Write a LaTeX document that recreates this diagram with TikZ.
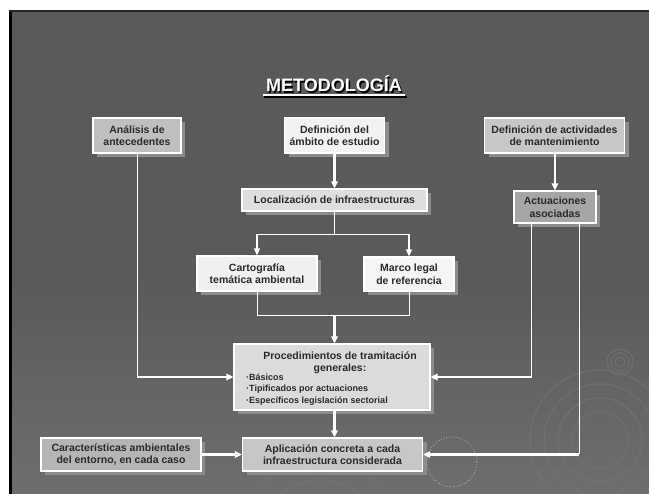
\documentclass[tikz,border=0pt]{standalone}
\usepackage{fontspec}
\setmainfont{Liberation Sans}
\usetikzlibrary{arrows.meta,shadows,calc}
\definecolor{bgtop}{HTML}{5A5A5A}
\definecolor{bgbot}{HTML}{6E6E6E}
\definecolor{shgray}{HTML}{8C8C8C}
\definecolor{txt}{HTML}{2A2A2A}
\definecolor{ring}{HTML}{7A7A7A}
\tikzset{
  box/.style={draw=white, line width=1.2pt, text=txt, align=center, inner sep=1pt,
    font=\bfseries\fontsize{10.5}{12.5}\selectfont,
    drop shadow={shadow xshift=4pt, shadow yshift=-4pt, fill=shgray, opacity=1}},
  thin/.style={draw=white, line width=0.9pt},
  thick/.style={draw=white, line width=2.2pt},
  arr/.style={-{Triangle[width=6.5pt,length=7pt]}},
  sarr/.style={-{Triangle[width=6pt,length=7pt]}}
}
\begin{document}
\begin{tikzpicture}[x=1pt,y=-1pt]
\useasboundingbox (0,0) rectangle (649,494);
% slide background
\fill[white] (0,0) rectangle (649,494);
\fill[bgtop] (10,11) rectangle (649,494);
\shade[top color=bgtop, bottom color=bgbot] (11,280) rectangle (649,494);
\fill[black] (9,10) rectangle (11.5,494);
\fill[black!85] (9,10) rectangle (649,12);
% decorative rings
\begin{scope}[ring, line width=1.2pt, opacity=0.45]
  \foreach \r in {28,42,56,70} {\draw (600,440) circle (\r);}
  \foreach \r in {40,60,80} {\draw (320,540) circle (\r);}
  \foreach \r in {5,9,13} {\draw (620,362) circle (\r);}
\end{scope}
\draw[white, dotted, line width=0.6pt, opacity=0.7] (452,462) circle (25);
% title
\node[anchor=base, font=\bfseries\fontsize{18}{20}\selectfont, text=black] (tsh) at (335.5,93.5) {METODOLOGÍA};
\node[anchor=base, font=\bfseries\fontsize{18}{20}\selectfont, text=white] (title) at (334,92) {METODOLOGÍA};
\draw[black, line width=2pt] ($(tsh.base west)+(0,3.5)$) -- ($(tsh.base east)+(0,3.5)$);
\draw[white, line width=2pt] ($(title.base west)+(0,3)$) -- ($(title.base east)+(0,3)$);
% boxes
\node[box, fill=black!25, minimum width=88pt, minimum height=35pt] (ana) at (137,135.5) {Análisis de\\antecedentes};
\node[box, fill=black!5, minimum width=100pt, minimum height=35pt] (amb) at (334.5,135.5) {Definición del\\ámbito de estudio};
\node[box, fill=black!22, minimum width=140pt, minimum height=35pt] (act) at (554.5,135.5) {Definición de actividades\\de mantenimiento};
\node[box, fill=black!13, minimum width=185pt, minimum height=22pt] (loc) at (334.5,200) {Localización de infraestructuras};
\node[box, fill=black!35, minimum width=82pt, minimum height=32pt] (acs) at (555,207) {Actuaciones\\asociadas};
\node[box, fill=black!6, minimum width=120pt, minimum height=35pt] (car) at (257,273.5) {Cartografía\\temática ambiental};
\node[box, fill=black!4, minimum width=90pt, minimum height=34pt] (mar) at (409,274) {Marco legal\\de referencia};
\node[box, fill=black!14, minimum width=196pt, minimum height=66pt] (pro) at (332,377) {};
\node[anchor=north, text=txt, align=center, font=\bfseries\fontsize{10.5}{12}\selectfont] (prot) at (340,348) {Procedimientos de tramitación\\generales:};
\node[anchor=north west, text=txt, align=left, inner sep=0pt, font=\bfseries\fontsize{9}{11.5}\selectfont] (prol) at (246,373.5) {·Básicos\\·Tipificados por actuaciones\\·Específicos legislación sectorial};
\node[box, fill=black!22, minimum width=180pt, minimum height=33pt] (apl) at (332.5,454.5) {Aplicación concreta a cada\\infraestructura considerada};
\node[box, fill=black!29, minimum width=160pt, minimum height=33pt] (cha) at (121,454.5) {Características ambientales\\del entorno, en cada caso};
% junction coordinates
\coordinate (j1) at (334.5,234);
\coordinate (jl) at (car.north |- j1);
\coordinate (jr) at (mar.north |- j1);
\coordinate (j2) at (334.5,315);
\coordinate (kl) at (car.south |- j2);
\coordinate (kr) at (mar.south |- j2);
\coordinate (a1) at (ana.south |- pro.west);
\coordinate (s1) at ($(acs.south west)!0.22!(acs.south east)$);
\coordinate (s2) at ($(acs.south west)!0.79!(acs.south east)$);
\coordinate (b2) at (s2 |- apl.east);
% connectors
\draw[thick, arr] (amb.south -| loc.north) -- (loc.north);
\draw[thick, arr] (act.south -| acs.north) -- (acs.north);
\draw[thin] (loc.south) -- (j1);
\draw[thin] (jl) -- (jr);
\draw[thin, line width=1.5pt, sarr] (jl) -- (car.north);
\draw[thin, line width=1.5pt, sarr] (jr) -- (mar.north);
\draw[thin] (car.south) -- (kl) -- (kr) -- (mar.south);
\draw[thick, line width=2.6pt, arr] (j2) -- (pro.north -| j2);
\draw[thin] (ana.south) -- (a1);
\draw[thick, arr] (a1) -- (pro.west);
\draw[thin] (s1) -- (s1 |- pro.east);
\draw[thick, arr] (s1 |- pro.east) -- (pro.east);
\draw[thin] (s2) -- (b2);
\draw[thick, arr] (b2) -- (apl.east);
\draw[thick, line width=2.6pt, arr] (pro.south -| j2) -- (apl.north -| j2);
\draw[thick, arr] (cha.east) -- (apl.west);
\end{tikzpicture}
\end{document}
